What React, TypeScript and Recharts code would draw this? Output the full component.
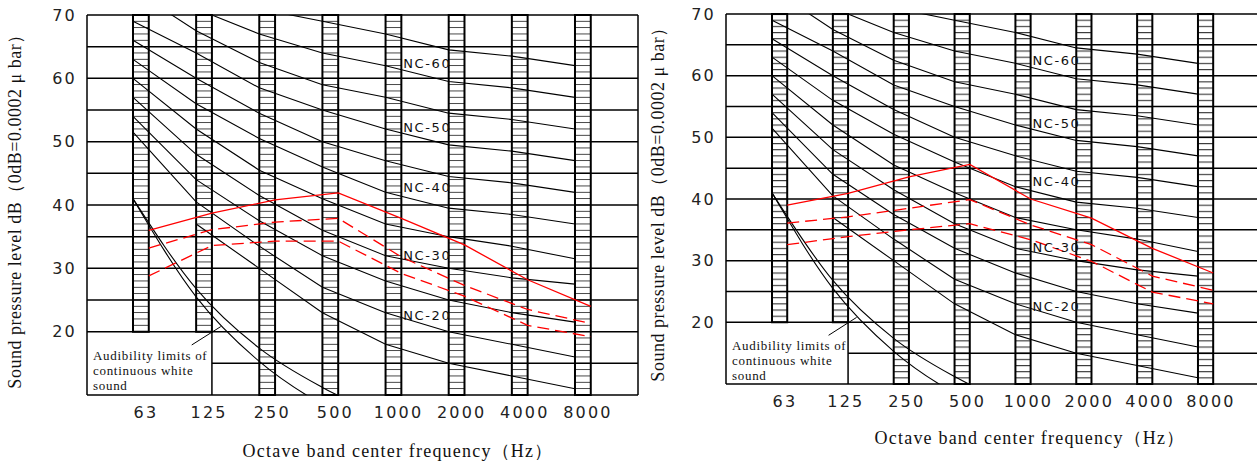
import React from 'react';
import { LineChart, Line, XAxis, YAxis, ReferenceLine, ReferenceArea, ReferenceDot } from 'recharts';

const bands = ['63', '125', '250', '500', '1000', '2000', '4000', '8000'];
const yTicks = [20, 30, 40, 50, 60, 70];
const gridLevels = [20, 25, 30, 35, 40, 45, 50, 55, 60, 65, 70];

// NC curves, dB per octave band (null = not drawn)
const nc15 = [null, 37, 30, 23, 18, 15, 13, 11];
const nc20 = [51.5, 40.5, 33.5, 27, 23, 20, 18, 16];
const nc25 = [54, 44, 37.5, 32, 28, 25, 23, 21.5];
const nc30 = [57, 48, 41.5, 36, 32, 30, 28.5, 27.5];
const nc35 = [60, 52, 45.5, 41, 37, 35, 33.5, 31.5];
const nc40 = [63, 56, 50.5, 46, 42, 39.5, 38.5, 37];
const nc45 = [66, 60, 54.5, 50, 47, 44.5, 43.5, 42];
const nc50 = [69, 64, 58.5, 55, 52, 49.5, 48.5, 47];
const nc55 = [74, 67.5, 62.5, 59, 57, 54.5, 53.5, 52];
const nc60 = [77, 71, 67, 64, 62, 59.5, 58.5, 57];
const nc65 = [80, 75, 71, 69, 67, 64.5, 63.5, 62];
const ncCurves = [nc15, nc20, nc25, nc30, nc35, nc40, nc45, nc50, nc55, nc60, nc65];

const ncLabels = ['NC-60', 'NC-50', 'NC-40', 'NC-30', 'NC-20'];
const ncLabelLevels = [62.4, 52.2, 42.8, 32.1, 22.5];

// audibility limits of continuous white sound (double line)
const audibleA = [41, 25.5, 15.3, 8.5, 4];
const audibleB = [41, 26.8, 17.4, 11.2, 6.5];

// measured spectra (left figure)
const leftSolid = [36.0, 38.7, 40.8, 41.9, 37.9, 33.7, 28.2, 24.0];
const leftDashHigh = [33.2, 36.1, 37.3, 37.9, 31.8, 27.3, 23.5, 21.3];
const leftDashLow = [28.8, 33.6, 34.3, 34.3, 29.2, 25.6, 21.0, 19.2];

// measured spectra (right figure)
const rightSolid = [39.0, 40.9, 43.6, 45.6, 40.0, 36.9, 32.0, 28.0];
const rightDashHigh = [36.1, 37.1, 38.5, 39.9, 35.8, 32.6, 27.5, 25.2];
const rightDashLow = [32.6, 33.9, 35.0, 36.0, 33.4, 29.9, 24.9, 23.0];

const toPoints = (vals: (number | null)[], shift = 0) =>
  vals.map((y, i) => ({ x: i + shift, y })).filter((p) => p.y != null);

const H = 466;
const BAR_W = 0.25;
const sans = 'DejaVu Sans';
const serif = 'Liberation Serif';

type PanelProps = {
  id: string;
  width: number;
  marginTop: number;
  marginRight: number;
  yAxisWidth: number;
  xAxisHeight: number;
  xMin: number;
  xMax: number;
  solid: number[];
  dashHigh: number[];
  dashLow: number[];
  xTitleX: number;
  xTitleY: number;
  yTitleX: number;
  yTitleY: number;
  rightBorder: boolean;
};

function Panel(p: PanelProps) {
  const plotTop = p.marginTop;
  const plotBottom = H - p.xAxisHeight;
  const plotLeft = p.yAxisWidth;
  const dbPx = (plotBottom - plotTop) / 60;
  const hatch = `hatch-${p.id}`;

  const xTick = (props: any) => (
    <text x={props.x + 13} y={plotBottom + 17} textAnchor="middle" dominantBaseline="central"
      fontFamily={sans} fontSize={16} letterSpacing={2.2} fill="#222">
      {bands[props.payload.value]}
    </text>
  );
  const yTick = (props: any) => (
    <text x={plotLeft - 10} y={props.y} textAnchor="end" dominantBaseline="central"
      fontFamily={sans} fontSize={16} letterSpacing={2.2} fill="#222">
      {props.payload.value}
    </text>
  );

  return (
    <div style={{ position: 'relative' }}>
      <svg width={0} height={0} style={{ position: 'absolute' }}>
        <defs>
          <pattern id={hatch} patternUnits="userSpaceOnUse" x={0} y={plotTop - 0.5} width={40} height={dbPx}>
            <line x1={0} x2={40} y1={0.5} y2={0.5} stroke="#333" strokeWidth={1} />
          </pattern>
        </defs>
      </svg>
      <LineChart width={p.width} height={H} margin={{ top: p.marginTop, right: p.marginRight, bottom: 0, left: 0 }}>
        <XAxis type="number" dataKey="x" domain={[p.xMin, p.xMax]} allowDataOverflow
          ticks={[0, 1, 2, 3, 4, 5, 6, 7]} interval={0} tickLine={false} tick={xTick}
          axisLine={{ stroke: '#000', strokeWidth: 1.5 }} height={p.xAxisHeight}
          label={() => (
            <text x={p.xTitleX} y={p.xTitleY} textAnchor="middle" dominantBaseline="central"
              fontFamily={serif} fontSize={18} letterSpacing={1.2} fill="#111">
              Octave band center frequency（Hz）
            </text>
          )} />
        <YAxis type="number" dataKey="y" domain={[10, 70]} allowDataOverflow ticks={yTicks} interval={0}
          tickLine={false} tick={yTick} axisLine={{ stroke: '#000', strokeWidth: 1.5 }} width={p.yAxisWidth}
          label={() => (
            <text x={p.yTitleX} y={p.yTitleY} textAnchor="middle" dominantBaseline="central"
              transform={`rotate(-90 ${p.yTitleX} ${p.yTitleY})`}
              fontFamily={serif} fontSize={18} letterSpacing={0.5} fill="#111">
              Sound pressure level dB（0dB=0.0002 μ bar）
            </text>
          )} />

        {bands.map((b, i) => (
          <ReferenceArea key={`bar-${b}`} x1={i} x2={i + BAR_W} y1={i < 2 ? 20 : 10} y2={70}
            fill={`url(#${hatch})`} fillOpacity={1} stroke="#000" strokeWidth={2} />
        ))}

        {gridLevels.map((g) => (
          <ReferenceLine key={`g-${g}`} y={g} stroke="#000" strokeWidth={1.5} />
        ))}
        <ReferenceLine segment={[{ x: 1 + BAR_W, y: 15 }, { x: p.xMax, y: 15 }]} stroke="#000" strokeWidth={1.5} />
        <ReferenceLine segment={[{ x: 1 + BAR_W, y: 10 }, { x: 1 + BAR_W, y: 20 }]} stroke="#000" strokeWidth={1.5} />
        {p.rightBorder && <ReferenceLine x={p.xMax} stroke="#000" strokeWidth={1.5} />}

        <ReferenceArea x1={p.xMin} x2={1 + BAR_W} y1={10} y2={20} fill="none" stroke="none"
          label={(lp: any) => {
            const vb = lp.viewBox;
            return (
              <text fontFamily={serif} fontSize={13} letterSpacing={0.7} fill="#111">
                <tspan x={vb.x + 6} y={vb.y + 28}>Audibility limits of</tspan>
                <tspan x={vb.x + 6} y={vb.y + 43}>continuous white</tspan>
                <tspan x={vb.x + 6} y={vb.y + 58}>sound</tspan>
              </text>
            );
          }} />
        <ReferenceLine segment={[{ x: 0.93, y: 17.9 }, { x: 1.39, y: 20.8 }]} stroke="#000" strokeWidth={1} />

        {ncCurves.map((c, k) => (
          <Line key={`nc-${k}`} data={toPoints(c)} dataKey="y" type="linear" stroke="#000" strokeWidth={1.1}
            dot={false} isAnimationActive={false} />
        ))}
        <Line data={toPoints(audibleA)} dataKey="y" type="monotone" stroke="#000" strokeWidth={1.1} dot={false} isAnimationActive={false} />
        <Line data={toPoints(audibleB)} dataKey="y" type="monotone" stroke="#000" strokeWidth={1.1} dot={false} isAnimationActive={false} />

        {ncLabels.map((t, k) => (
          <ReferenceDot key={t} x={4.28} y={ncLabelLevels[k]} r={0} fill="none" stroke="none" ifOverflow="visible"
            label={(lp: any) => (
              <text x={lp.viewBox.x} y={lp.viewBox.y} dominantBaseline="central" fontFamily={sans}
                fontSize={13} letterSpacing={1.6} fill="#111">{t}</text>
            )} />
        ))}

        <Line data={toPoints(p.solid, BAR_W)} dataKey="y" type="linear" stroke="#ff0000" strokeWidth={1.3}
          dot={false} isAnimationActive={false} />
        <Line data={toPoints(p.dashHigh, BAR_W)} dataKey="y" type="linear" stroke="#ff0000" strokeWidth={1.3}
          strokeDasharray="12 6" dot={false} isAnimationActive={false} />
        <Line data={toPoints(p.dashLow, BAR_W)} dataKey="y" type="linear" stroke="#ff0000" strokeWidth={1.3}
          strokeDasharray="12 6" dot={false} isAnimationActive={false} />
      </LineChart>
    </div>
  );
}

export default function App() {
  return (
    <div style={{ position: 'absolute', left: 0, top: 0, width: 1257, height: H, overflow: 'hidden', background: '#fff' }}>
      <div style={{ position: 'absolute', left: 0, top: 0 }}>
        <Panel id="l" width={645} marginTop={15} marginRight={7} yAxisWidth={87} xAxisHeight={71}
          xMin={-0.7285} xMax={7.998} solid={leftSolid} dashHigh={leftDashHigh} dashLow={leftDashLow}
          xTitleX={398} xTitleY={451} yTitleX={15} yTitleY={207} rightBorder />
      </div>
      <div style={{ position: 'absolute', left: 640, top: 0 }}>
        <Panel id="r" width={617} marginTop={14} marginRight={0} yAxisWidth={86} xAxisHeight={82}
          xMin={-0.756} xMax={7.97} solid={rightSolid} dashHigh={rightDashHigh} dashLow={rightDashLow}
          xTitleX={390} xTitleY={438} yTitleX={18} yTitleY={200} rightBorder={false} />
      </div>
    </div>
  );
}
